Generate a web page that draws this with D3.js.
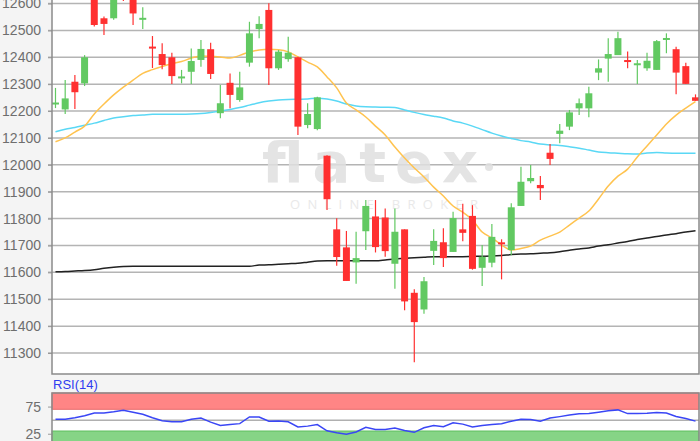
<!DOCTYPE html>
<html>
<head>
<meta charset="utf-8">
<script src="https://cdn.jsdelivr.net/npm/d3@7"></script>
<style>
  body { margin: 0; background: #f4f4f4; }
  svg { display: block; font-family: "Liberation Sans", Arial, sans-serif; }
</style>
</head>
<body>
<script>
// daily candles (index = trading day)
const days = d3.range(67);
const open = [12225,12206,12309,12303,12640,12545,12545,12680,12660,12539,
  12436,12412,12400,12318,12346,12390,12430,12192,12305,12241,
  12380,12505,12576,12359,12393,12400,12148,12133,12034,11760,
  11693,11637,11753,11808,11804,11632,11760,11524,11462,11680,
  11712,11676,11760,11810,11617,11636,11708,11683,11847,11939,
  11925,12045,12115,12142,12210,12210,12343,12395,12408,12386,
  12370,12359,12353,12464,12430,12367,12251];
const high = [12286,12315,12334,12408,12655,12552,12645,12700,12680,12586,
  12479,12452,12417,12353,12433,12464,12454,12297,12340,12346,
  12532,12553,12601,12427,12476,12402,12229,12253,12036,11801,
  11754,11751,11869,11869,11838,11838,11760,11537,11583,11760,
  11764,11825,11855,11850,11702,11780,11723,11857,11993,11999,
  11958,12077,12152,12204,12247,12290,12392,12471,12495,12421,
  12390,12417,12464,12489,12439,12380,12262];
const low = [12211,12189,12208,12293,12514,12483,12540,12609,12520,12505,
  12360,12355,12301,12303,12301,12365,12319,12173,12210,12235,
  12365,12471,12297,12353,12383,12111,12136,12129,11832,11625,
  11568,11558,11683,11674,11658,11539,11459,11266,11446,11627,
  11620,11676,11716,11610,11549,11619,11574,11664,11847,11931,
  11869,11999,12080,12129,12185,12177,12315,12309,12408,12359,
  12301,12350,12353,12415,12262,12301,12238];
const close = [12228,12247,12270,12400,12520,12524,12630,12640,12563,12543,
  12432,12371,12330,12325,12386,12431,12338,12229,12260,12288,
  12489,12524,12359,12421,12417,12142,12189,12251,11872,11657,
  11568,11653,11847,11694,11679,11751,11492,11415,11567,11717,
  11653,11802,11747,11613,11658,11732,11702,11842,11937,11951,
  11913,12022,12127,12195,12229,12266,12359,12412,12471,12380,
  12374,12387,12460,12468,12343,12301,12238];

// moving averages
const maShort = [12086,12100,12122,12144,12189,12226,12260,12289,12315,12340,
  12354,12366,12376,12384,12397,12405,12403,12401,12397,12407,
  12420,12427,12430,12428,12420,12401,12382,12364,12327,12286,
  12230,12204,12178,12144,12111,12066,12025,11988,11955,11917,
  11884,11847,11824,11795,11750,11728,11702,11683,11689,11698,
  11720,11735,11750,11776,11802,11828,11873,11921,11958,11984,
  12029,12070,12111,12152,12185,12211,12235];
const maMid = [12123,12132,12139,12147,12155,12165,12174,12179,12183,12185,
  12188,12188,12188,12188,12189,12191,12195,12200,12206,12213,
  12222,12231,12237,12241,12243,12244,12245,12248,12245,12237,
  12226,12219,12216,12215,12214,12213,12204,12195,12187,12181,
  12174,12163,12155,12144,12131,12118,12107,12098,12090,12085,
  12077,12074,12072,12067,12062,12055,12048,12045,12043,12041,
  12040,12044,12046,12044,12043,12043,12043];
const maLong = [11602,11603,11605,11607,11610,11615,11619,11622,11623,11623,
  11623,11623,11623,11623,11623,11623,11623,11623,11623,11623,
  11623,11627,11628,11630,11632,11634,11638,11642,11643,11643,
  11643,11643,11643,11643,11646,11650,11652,11654,11656,11658,
  11658,11658,11658,11659,11660,11661,11663,11666,11668,11669,
  11671,11673,11677,11682,11687,11691,11698,11703,11709,11715,
  11722,11728,11733,11739,11744,11750,11755];

// RSI(14)
const rsi = [51.6,51.6,54.3,58.0,63.0,63.2,65.4,68.1,64.5,60.8,
  54.3,48.8,47.0,47.0,51.6,53.8,46.4,40.0,41.8,43.6,
  55.8,55.8,47.9,48.4,47.0,37.4,39.0,41.8,30.4,26.7,
  23.9,28.2,36.8,32.6,32.6,35.5,30.9,27.6,35.9,40.1,
  37.8,45.1,42.7,37.6,40.1,42.0,43.5,47.9,51.6,51.0,
  47.9,53.8,56.5,59.3,61.9,62.1,64.5,67.2,68.9,62.1,
  62.1,62.6,63.9,63.0,56.7,53.0,48.2];

const priceTicks = [11300,11400,11500,11600,11700,11800,11900,12000,12100,12200,12300,12400,12500,12600];
const rsiTicks = [75, 25];
const rsiBands = [[70, 100, "#ff8585", "#e86b6b"], [0, 30, "#86d486", "#5fbf5f"]];

const W = 700, H = 441;
const left = 52, right = 699, mainBottom = 374, rsiTop = 393;

const svg = d3.select("body").append("svg")
  .attr("width", W)
  .attr("height", H);

// scales
const x = d3.scaleBand()
  .domain(days)
  .range([left, right])
  .paddingInner(0.28)
  .paddingOuter(0);
const xc = d => x(d) + x.bandwidth() / 2;

const y = d3.scaleLinear()
  .domain([11222, 12613])
  .range([mainBottom, 0]);

const yR = d3.scaleLinear()
  .domain([0, 100])
  .range([rsiTop + 54.3, rsiTop]);

// main panel background
svg.append("rect")
  .attr("x", left).attr("y", -5)
  .attr("width", right - left).attr("height", mainBottom + 5)
  .attr("fill", "#fff");

svg.append("defs").append("clipPath").attr("id", "clip")
  .append("rect")
  .attr("x", left).attr("y", -5)
  .attr("width", right - left).attr("height", mainBottom + 5);

// grid lines
svg.append("g")
  .selectAll("line")
  .data(priceTicks)
  .join("line")
  .attr("x1", left - 4).attr("x2", right)
  .attr("y1", d => y(d)).attr("y2", d => y(d))
  .attr("stroke", "#b4b4b4")
  .attr("stroke-width", 1.5);

// y axis labels
const yAxis = svg.append("g")
  .attr("transform", `translate(${left},0)`)
  .call(d3.axisLeft(y).tickValues(priceTicks).tickSize(4).tickPadding(7).tickFormat(d3.format("d")));
yAxis.select(".domain").remove();
yAxis.selectAll(".tick line").attr("stroke", "#999");
yAxis.selectAll("text").attr("fill", "#6e6e6e").attr("font-size", 14);

// watermark
const wm = svg.append("g").attr("fill", "#e0e0e0").attr("opacity", 0.85);
wm.append("text")
  .attr("x", 262).attr("y", 182)
  .attr("font-family", "'DejaVu Sans', sans-serif")
  .attr("font-weight", 700)
  .attr("font-size", 56)
  .attr("textLength", 216)
  .attr("lengthAdjust", "spacing")
  .text("flatex");
wm.append("circle").attr("cx", 489).attr("cy", 167).attr("r", 4);
wm.append("text")
  .attr("x", 290).attr("y", 209)
  .attr("font-family", "'Open Sans', sans-serif")
  .attr("font-size", 13)
  .attr("textLength", 188)
  .attr("lengthAdjust", "spacing")
  .attr("fill", "#e6e6e6")
  .text("ONLINE BROKER");

const plot = svg.append("g").attr("clip-path", "url(#clip)");

// moving average lines
const maLine = arr => d3.line()
  .x((d, i) => xc(days[i]))
  .y(d => y(d))
  .curve(d3.curveMonotoneX)(arr);

plot.append("path").attr("d", maLine(maLong))
  .attr("fill", "none").attr("stroke", "#222").attr("stroke-width", 1.5);
plot.append("path").attr("d", maLine(maMid))
  .attr("fill", "none").attr("stroke", "#5ad8f5").attr("stroke-width", 1.5);
plot.append("path").attr("d", maLine(maShort))
  .attr("fill", "none").attr("stroke", "#ffc34f").attr("stroke-width", 1.5);

// candles
const up = i => close[i] >= open[i];
const candle = plot.append("g")
  .selectAll("g")
  .data(days)
  .join("g")
  .attr("fill", i => up(i) ? "#62c962" : "#ff3030")
  .attr("stroke", i => up(i) ? "#62c962" : "#ff3030");

candle.append("line")
  .attr("x1", i => xc(i)).attr("x2", i => xc(i))
  .attr("y1", i => y(high[i])).attr("y2", i => y(low[i]))
  .attr("stroke-width", 1.2);

candle.append("rect")
  .attr("x", i => x(i))
  .attr("width", x.bandwidth())
  .attr("y", i => Math.min(y(open[i]), y(close[i])) - (Math.abs(y(open[i]) - y(close[i])) < 2 ? 1 : 0))
  .attr("height", i => Math.max(2, Math.abs(y(open[i]) - y(close[i]))))
  .attr("stroke", "none");

// main panel border
svg.append("path")
  .attr("d", `M${left},-2V${mainBottom}H${right}V-2`)
  .attr("fill", "none")
  .attr("stroke", "#8a8a8a")
  .attr("stroke-width", 1.5);

// RSI panel
svg.append("text")
  .attr("x", 53).attr("y", 389)
  .attr("font-size", 13)
  .attr("fill", "#2f3cf0")
  .text("RSI(14)");

svg.append("rect")
  .attr("x", left).attr("y", rsiTop)
  .attr("width", right - left).attr("height", H - rsiTop + 5)
  .attr("fill", "#fff");

svg.append("g")
  .selectAll("rect")
  .data(rsiBands)
  .join("rect")
  .attr("x", left).attr("width", right - left)
  .attr("y", d => yR(d[1]))
  .attr("height", d => yR(d[0]) - yR(d[1]))
  .attr("fill", d => d[2])
  .attr("stroke", d => d[3])
  .attr("stroke-width", 1);

svg.append("line")
  .attr("x1", left).attr("x2", right)
  .attr("y1", yR(50)).attr("y2", yR(50))
  .attr("stroke", "#b0b0b0").attr("stroke-width", 1.5);

const rAxis = svg.append("g")
  .attr("transform", `translate(${left},0)`)
  .call(d3.axisLeft(yR).tickValues(rsiTicks).tickSize(4).tickPadding(7));
rAxis.select(".domain").remove();
rAxis.selectAll(".tick line").attr("stroke", "#999");
rAxis.selectAll("text").attr("fill", "#6e6e6e").attr("font-size", 14);

svg.append("path")
  .attr("d", d3.line().x((d, i) => xc(days[i])).y(d => yR(d))(rsi))
  .attr("fill", "none")
  .attr("stroke", "#3a46f5")
  .attr("stroke-width", 1.5);

svg.append("path")
  .attr("d", `M${left},${H + 2}V${rsiTop}H${right}V${H + 2}`)
  .attr("fill", "none")
  .attr("stroke", "#8a8a8a")
  .attr("stroke-width", 1.5);
</script>
</body>
</html>
